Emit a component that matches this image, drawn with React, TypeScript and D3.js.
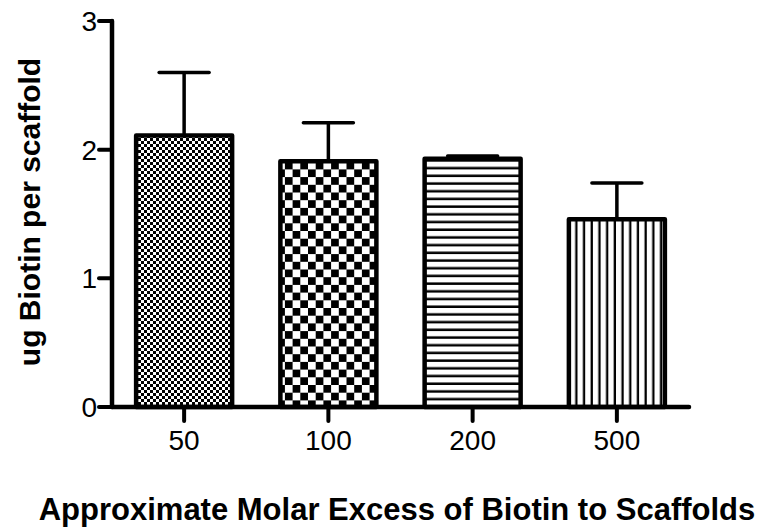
import React from "react";
import * as d3 from "d3";

const categories = ["50", "100", "200", "500"];
const means = [2.11, 1.91, 1.93, 1.46];
const errors = [0.49, 0.30, 0.02, 0.28];
const yTicks = [0, 1, 2, 3];
const patterns = ["fineCheck", "coarseCheck", "hLines", "vLines"];

const W = 758;
const H = 529;
const left = 112;
const right = 689;
const top = 21;
const bottom = 407;
const font = "'Liberation Sans', Arial, sans-serif";

export default function App() {
  const x = d3.scalePoint<string>().domain(categories).range([left, right]).padding(0.5);
  const y = d3.scaleLinear().domain([0, 3]).range([bottom, top]);
  const barW = 96;
  const capHalf = 25;

  return (
    <svg width={W} height={H} style={{ position: "absolute", left: 0, top: 0, background: "#fff" }}>
      <defs>
        <pattern id="fineCheck" patternUnits="userSpaceOnUse" width={6} height={6}>
          <rect width={6} height={6} fill="#fff" />
          <rect width={3} height={3} fill="#000" />
          <rect x={3} y={3} width={3} height={3} fill="#000" />
        </pattern>
        <pattern id="coarseCheck" patternUnits="userSpaceOnUse" width={15.4} height={15.4}>
          <rect width={15.4} height={15.4} fill="#fff" />
          <rect width={7.7} height={7.7} fill="#000" />
          <rect x={7.7} y={7.7} width={7.7} height={7.7} fill="#000" />
        </pattern>
        <pattern id="hLines" patternUnits="userSpaceOnUse" width={10} height={7.7}>
          <rect width={10} height={7.7} fill="#fff" />
          <rect y={5.2} width={10} height={2.5} fill="#000" />
        </pattern>
        <pattern id="vLines" patternUnits="userSpaceOnUse" width={7.7} height={10}>
          <rect width={7.7} height={10} fill="#fff" />
          <rect x={5.4} width={2.3} height={10} fill="#000" />
        </pattern>
      </defs>

      {/* bars */}
      {categories.map((c, i) => {
        const cx = x(c)!;
        return (
          <g key={c}>
            <line x1={cx} x2={cx} y1={y(means[i])} y2={y(means[i] + errors[i])} stroke="#000" strokeWidth={3.5} />
            <line x1={cx - capHalf} x2={cx + capHalf} y1={y(means[i] + errors[i])} y2={y(means[i] + errors[i])} stroke="#000" strokeWidth={3.5} strokeLinecap="round" />
            <rect
              x={cx - barW / 2}
              y={y(means[i])}
              width={barW}
              height={bottom - y(means[i])}
              fill={`url(#${patterns[i]})`}
              stroke="#000"
              strokeWidth={4.5}
              strokeLinejoin="round"
            />
          </g>
        );
      })}

      {/* y axis */}
      <line x1={left} x2={left} y1={top} y2={bottom} stroke="#000" strokeWidth={4.5} strokeLinecap="round" />
      {yTicks.map((t) => (
        <g key={t}>
          <line x1={99} x2={left} y1={y(t)} y2={y(t)} stroke="#000" strokeWidth={4} strokeLinecap="round" />
          <text x={97} y={y(t)} dy="0.36em" textAnchor="end" fontFamily={font} fontSize={28} fill="#000">
            {t}
          </text>
        </g>
      ))}

      {/* x axis */}
      <line x1={left} x2={right} y1={bottom} y2={bottom} stroke="#000" strokeWidth={4.5} strokeLinecap="round" />
      {categories.map((c) => (
        <g key={c}>
          <line x1={x(c)!} x2={x(c)!} y1={bottom} y2={421} stroke="#000" strokeWidth={4} strokeLinecap="round" />
          <text x={x(c)!} y={450} textAnchor="middle" fontFamily={font} fontSize={28} fill="#000">
            {c}
          </text>
        </g>
      ))}

      {/* titles */}
      <text
        transform={`translate(40, 212) rotate(-90)`}
        textAnchor="middle"
        fontFamily={font}
        fontWeight="bold"
        fontSize={30}
        fill="#000"
      >
        ug Biotin per scaffold
      </text>
      <text x={397} y={520} textAnchor="middle" fontFamily={font} fontWeight="bold" fontSize={31} fill="#000">
        Approximate Molar Excess of Biotin to Scaffolds
      </text>
    </svg>
  );
}
